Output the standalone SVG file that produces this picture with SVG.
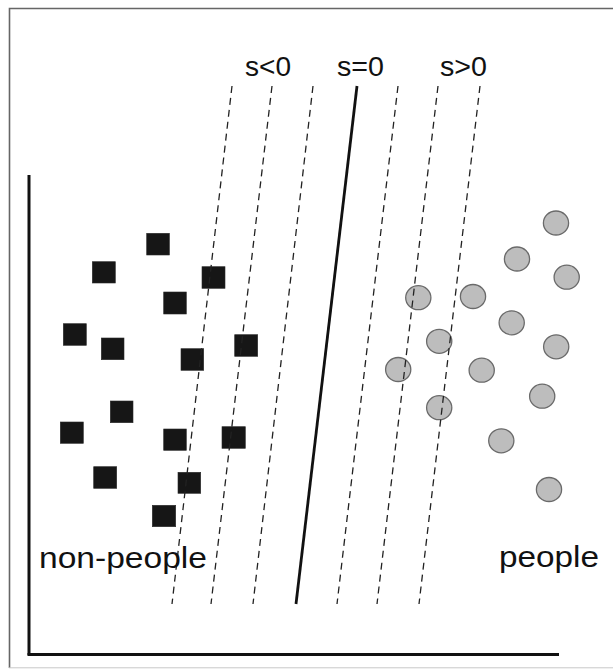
<svg xmlns="http://www.w3.org/2000/svg" width="613" height="669" viewBox="0 0 613 669">
<style>
.lbl{font-family:"Liberation Sans",Arial,sans-serif;fill:#111}
.sq{fill:#161616;stroke:#2a2a2a;stroke-width:0.6}
.ci{fill:#bdbdbd;stroke:#6a6a6a;stroke-width:1.3}
.dash{stroke:#222;stroke-width:1.3;stroke-dasharray:7 5;fill:none}
.axis{stroke:#111;stroke-width:3;fill:none}
</style>
<rect width="613" height="669" fill="#ffffff"/>
<g id="frame">
<path d="M614,8.5 H9.5 V668" fill="none" stroke="#666" stroke-width="1.6"/>
<line x1="9" y1="667.8" x2="613" y2="667.8" stroke="#c8c8c8" stroke-width="1"/>
</g>
<g id="axes">
<line class="axis" x1="29" y1="175" x2="29" y2="655"/>
<line class="axis" x1="27.5" y1="654.5" x2="559" y2="654.5"/>
</g>
<g id="non-people-squares">
<rect class="sq" x="146.7" y="233.3" width="22.7" height="21.7"/>
<rect class="sq" x="92.3" y="261.7" width="23" height="21.3"/>
<rect class="sq" x="202" y="266.7" width="23" height="21.6"/>
<rect class="sq" x="163.7" y="292" width="22.6" height="22"/>
<rect class="sq" x="63.3" y="323.7" width="23" height="21.6"/>
<rect class="sq" x="101.3" y="338" width="22.7" height="21.7"/>
<rect class="sq" x="181" y="348.7" width="22.7" height="21.6"/>
<rect class="sq" x="234.7" y="334.7" width="23" height="21.6"/>
<rect class="sq" x="110.3" y="401" width="22.7" height="21.7"/>
<rect class="sq" x="60.3" y="422" width="23" height="21.3"/>
<rect class="sq" x="163.7" y="429" width="22.6" height="21.3"/>
<rect class="sq" x="222" y="426.7" width="23.3" height="21.6"/>
<rect class="sq" x="93.7" y="466.7" width="23" height="21.6"/>
<rect class="sq" x="178" y="472.3" width="22.7" height="21"/>
<rect class="sq" x="152.3" y="505.3" width="23.4" height="21.4"/>
</g>
<g id="people-circles">
<ellipse class="ci" cx="556" cy="223" rx="12.6" ry="12"/>
<ellipse class="ci" cx="517" cy="259" rx="12.6" ry="12"/>
<ellipse class="ci" cx="566.7" cy="277.2" rx="12.6" ry="12"/>
<ellipse class="ci" cx="418.3" cy="297.7" rx="12.6" ry="12"/>
<ellipse class="ci" cx="473" cy="296.5" rx="12.6" ry="12"/>
<ellipse class="ci" cx="511.7" cy="322.8" rx="12.6" ry="12"/>
<ellipse class="ci" cx="439.2" cy="341.3" rx="12.6" ry="12"/>
<ellipse class="ci" cx="556.2" cy="346.8" rx="12.6" ry="12"/>
<ellipse class="ci" cx="398.2" cy="369.5" rx="12.6" ry="12"/>
<ellipse class="ci" cx="481.7" cy="370.2" rx="12.6" ry="12"/>
<ellipse class="ci" cx="542.2" cy="396.2" rx="12.6" ry="12"/>
<ellipse class="ci" cx="439.2" cy="407.7" rx="12.6" ry="12"/>
<ellipse class="ci" cx="501.3" cy="440.8" rx="12.6" ry="12"/>
<ellipse class="ci" cx="549" cy="489.5" rx="12.6" ry="12"/>
</g>
<g id="boundaries">
<line class="dash" x1="232" y1="86" x2="172" y2="604"/>
<line class="dash" x1="272" y1="86" x2="211" y2="604"/>
<line class="dash" x1="313" y1="86" x2="253" y2="604"/>
<line x1="357" y1="86" x2="296" y2="604" stroke="#111" stroke-width="2.8"/>
<line class="dash" x1="398" y1="86" x2="337" y2="604"/>
<line class="dash" x1="438" y1="86" x2="377" y2="604"/>
<line class="dash" x1="480" y1="86" x2="419" y2="604"/>
</g>
<g id="labels">
<text class="lbl" x="245" y="76" font-size="27" textLength="46" lengthAdjust="spacingAndGlyphs">s&lt;0</text>
<text class="lbl" x="337" y="76" font-size="27" textLength="47" lengthAdjust="spacingAndGlyphs">s=0</text>
<text class="lbl" x="440" y="76" font-size="27" textLength="47" lengthAdjust="spacingAndGlyphs">s&gt;0</text>
<text class="lbl" x="39" y="568" font-size="30" textLength="168" lengthAdjust="spacingAndGlyphs">non-people</text>
<text class="lbl" x="499" y="567" font-size="30" textLength="100" lengthAdjust="spacingAndGlyphs">people</text>
</g>
</svg>
